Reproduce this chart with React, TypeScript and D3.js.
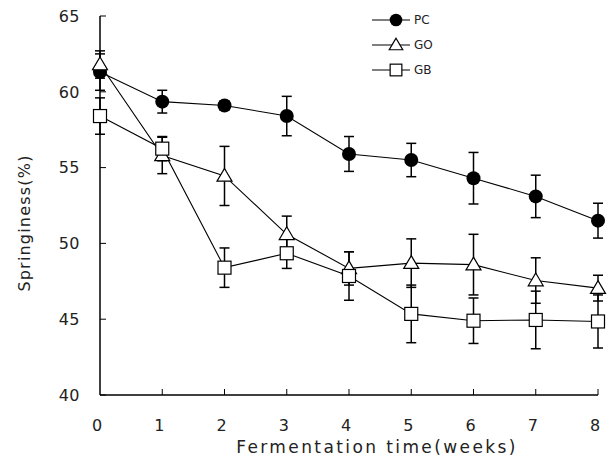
import { useEffect, useRef } from "react";
import * as d3 from "d3";

const weeks = [0, 1, 2, 3, 4, 5, 6, 7, 8];
const pcValues = [61.3, 59.35, 59.1, 58.4, 55.9, 55.5, 54.3, 53.1, 51.5];
const pcErrors = [1.2, 0.75, 0.3, 1.3, 1.15, 1.1, 1.7, 1.4, 1.15];
const goValues = [61.8, 55.8, 54.45, 50.6, 48.35, 48.7, 48.6, 47.55, 47.05];
const goErrors = [0.9, 1.2, 1.95, 1.2, 1.1, 1.6, 2.0, 1.5, 0.85];
const gbValues = [58.4, 56.25, 48.4, 49.35, 47.85, 45.35, 44.9, 44.95, 44.85];
const gbErrors = [1.2, 0.8, 1.3, 1.0, 1.6, 1.9, 1.5, 1.9, 1.75];
const yTicks = [40, 45, 50, 55, 60, 65];

const series = [
  { name: "PC", values: pcValues, errors: pcErrors, marker: "circle" },
  { name: "GO", values: goValues, errors: goErrors, marker: "triangle" },
  { name: "GB", values: gbValues, errors: gbErrors, marker: "square" },
];

const FONT = "'DejaVu Sans', sans-serif";

function drawMarker(g: any, type: string, cx: number, cy: number, k = 1) {
  if (type === "circle") {
    g.append("circle")
      .attr("cx", cx)
      .attr("cy", cy)
      .attr("r", 7 * k)
      .attr("fill", "black");
  } else if (type === "triangle") {
    const s = 7.5 * k;
    g.append("path")
      .attr(
        "d",
        `M${cx},${cy - s} L${cx + s},${cy + s * 0.7} L${cx - s},${cy + s * 0.7} Z`
      )
      .attr("fill", "white")
      .attr("stroke", "black")
      .attr("stroke-width", 1.2);
  } else {
    const h = 6.5 * k;
    g.append("rect")
      .attr("x", cx - h)
      .attr("y", cy - h)
      .attr("width", h * 2)
      .attr("height", h * 2)
      .attr("fill", "white")
      .attr("stroke", "black")
      .attr("stroke-width", 1.2);
  }
}

export default function App() {
  const ref = useRef<SVGSVGElement>(null);

  useEffect(() => {
    const svg = d3.select(ref.current);
    svg.selectAll("*").remove();

    const x = d3.scaleLinear().domain([0, 8]).range([100, 598]);
    const y = d3.scaleLinear().domain([40, 65]).range([395, 16]);

    // axes
    svg
      .append("line")
      .attr("x1", x(0))
      .attr("x2", x(8))
      .attr("y1", y(40))
      .attr("y2", y(40))
      .attr("stroke", "black")
      .attr("stroke-width", 1.5);
    svg
      .append("line")
      .attr("x1", x(0))
      .attr("x2", x(0))
      .attr("y1", y(40))
      .attr("y2", y(65))
      .attr("stroke", "black")
      .attr("stroke-width", 1.5);

    yTicks.forEach((t) => {
      svg
        .append("line")
        .attr("x1", x(0))
        .attr("x2", x(0) + 6)
        .attr("y1", y(t))
        .attr("y2", y(t))
        .attr("stroke", "black");
      svg
        .append("text")
        .attr("x", 80)
        .attr("y", y(t))
        .attr("dy", "0.36em")
        .attr("text-anchor", "end")
        .attr("font-family", FONT)
        .attr("font-size", 16)
        .attr("letter-spacing", 0.5)
        .attr("fill", "#222")
        .text(t);
    });

    weeks.forEach((w) => {
      if (w > 0) {
        svg
          .append("line")
          .attr("x1", x(w))
          .attr("x2", x(w))
          .attr("y1", y(40))
          .attr("y2", y(40) - 6)
          .attr("stroke", "black");
      }
      svg
        .append("text")
        .attr("x", x(w) - 3)
        .attr("y", 425)
        .attr("dy", "0.36em")
        .attr("text-anchor", "middle")
        .attr("font-family", FONT)
        .attr("font-size", 16)
        .attr("fill", "#222")
        .text(w);
    });

    svg
      .append("text")
      .attr("x", 377)
      .attr("y", 453)
      .attr("text-anchor", "middle")
      .attr("font-family", FONT)
      .attr("font-size", 17)
      .attr("letter-spacing", 2.4)
      .attr("fill", "#222")
      .text("Fermentation time(weeks)");

    svg
      .append("text")
      .attr("transform", `translate(30,223) rotate(-90)`)
      .attr("text-anchor", "middle")
      .attr("font-family", FONT)
      .attr("font-size", 16)
      .attr("letter-spacing", 1.2)
      .attr("fill", "#222")
      .text("Springiness(%)");

    const line = d3
      .line<number>()
      .x((_, i) => x(weeks[i]))
      .y((d) => y(d));

    // lines
    series.forEach((s) => {
      svg
        .append("path")
        .attr("d", line(s.values))
        .attr("fill", "none")
        .attr("stroke", "black")
        .attr("stroke-width", 1.1);
    });

    // error bars
    series.forEach((s) => {
      s.values.forEach((v, i) => {
        const cx = x(weeks[i]);
        const top = y(v + s.errors[i]);
        const bot = y(v - s.errors[i]);
        svg
          .append("line")
          .attr("x1", cx)
          .attr("x2", cx)
          .attr("y1", top)
          .attr("y2", bot)
          .attr("stroke", "black")
          .attr("stroke-width", 1.5);
        [top, bot].forEach((yy) => {
          svg
            .append("line")
            .attr("x1", cx - 5)
            .attr("x2", cx + 5)
            .attr("y1", yy)
            .attr("y2", yy)
            .attr("stroke", "black")
            .attr("stroke-width", 1.5);
        });
      });
    });

    // markers
    series.forEach((s) => {
      s.values.forEach((v, i) => {
        drawMarker(svg, s.marker, x(weeks[i]), y(v));
      });
    });

    // legend
    series.forEach((s, i) => {
      const ly = 20 + i * 25;
      svg
        .append("line")
        .attr("x1", 372)
        .attr("x2", 410)
        .attr("y1", ly)
        .attr("y2", ly)
        .attr("stroke", "black")
        .attr("stroke-width", 1.1);
      drawMarker(svg, s.marker, 396, ly, 0.9);
      svg
        .append("text")
        .attr("x", 414)
        .attr("y", ly)
        .attr("dy", "0.36em")
        .attr("font-family", FONT)
        .attr("font-size", 12)
        .attr("fill", "#222")
        .text(s.name);
    });
  }, []);

  return (
    <svg
      ref={ref}
      width={612}
      height={461}
      style={{ position: "absolute", left: 0, top: 0, background: "white" }}
    ></svg>
  );
}
